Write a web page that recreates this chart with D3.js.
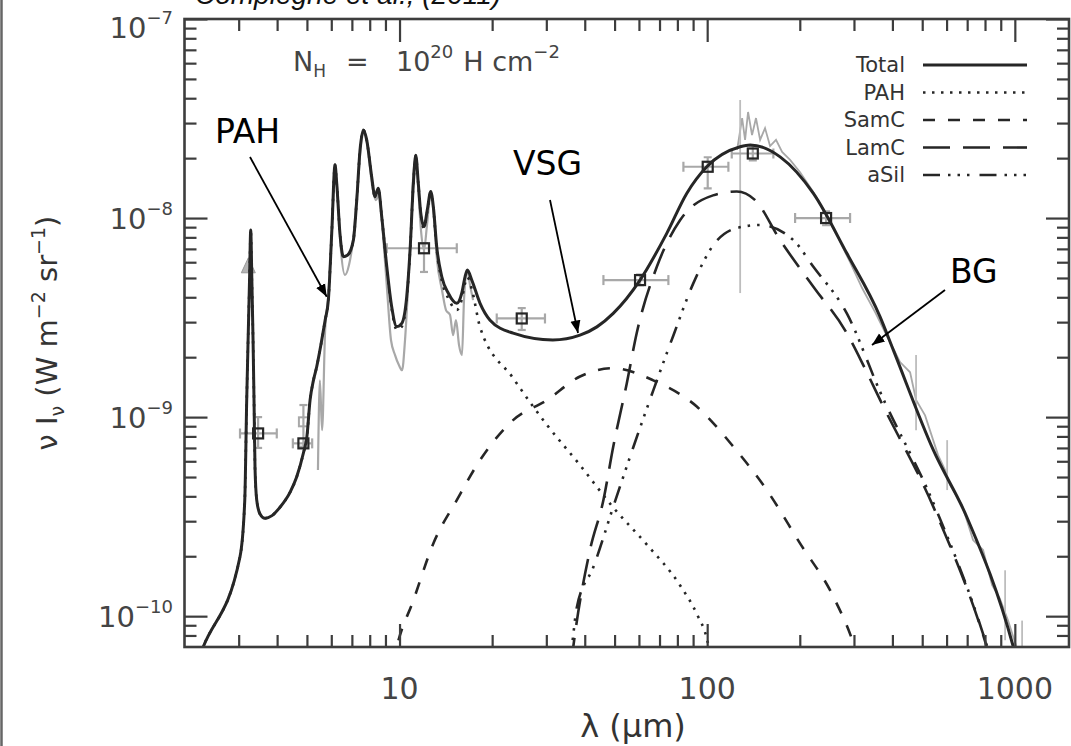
<!DOCTYPE html>
<html><head><meta charset="utf-8">
<script src="https://cdn.jsdelivr.net/npm/d3@7"></script>
<style>body{margin:0;background:#fff}svg{display:block}</style>
</head><body>
<svg id="chart" width="1071" height="746"></svg>
<script>
// ---------- data (wavelength in micron, nu*I_nu in W m^-2 sr^-1) ----------
const xMajorTicks = [10, 100, 1000];
const xMinorTicks = [3,4,5,6,7,8,9,20,30,40,50,60,70,80,90,200,300,400,500,600,700,800,900];
const yMajorTicks = [1e-7, 1e-8, 1e-9, 1e-10];
const yMinorTicks = [2e-8,3e-8,4e-8,5e-8,6e-8,7e-8,8e-8,9e-8,2e-9,3e-9,4e-9,5e-9,6e-9,7e-9,8e-9,9e-9,
                     2e-10,3e-10,4e-10,5e-10,6e-10,7e-10,8e-10,9e-10,8e-11,9e-11];
const yTickExp = ["−7","−8","−9","−10"];

const totalModel = [[2.22,6.1e-11],[2.30,7.0e-11],[3.03,1.99e-10],[3.14,3.83e-10],[3.186,1.22e-9],[3.225,2.74e-9],
 [3.254,4.88e-9],[3.283,8.7e-9],[3.311,4.88e-9],[3.341,2.44e-9],[3.365,1.22e-9],[3.39,5.6e-10],[3.434,3.83e-10],
 [3.52,3.26e-10],[3.65,3.1e-10],[3.85,3.2e-10],[4.09,3.53e-10],[4.41,4.2e-10],[4.63,5.0e-10],[4.87,6.6e-10],
 [5.0,8.0e-10],[5.12,1.22e-9],[5.25,1.53e-9],[5.38,1.79e-9],[5.55,2.3e-9],[5.73,3.07e-9],[5.87,3.87e-9],
 [6.02,8.4e-9],[6.17,1.85e-8],[6.25,1.49e-8],[6.40,8.4e-9],[6.57,6.4e-9],[6.77,6.5e-9],[7.08,7.75e-9],
 [7.26,1.23e-8],[7.44,2.2e-8],[7.63,2.77e-8],[7.82,2.47e-8],[8.12,1.61e-8],[8.32,1.28e-8],[8.53,1.41e-8],
 [8.75,1.02e-8],[9.09,5.7e-9],[9.43,3.58e-9],[9.79,2.85e-9],[10.17,2.96e-9],[10.55,4.02e-9],[10.82,6.9e-9],
 [11.09,1.49e-8],[11.29,2.07e-8],[11.51,1.49e-8],[11.72,1.06e-8],[12.01,9.05e-9],[12.31,1.10e-8],[12.63,1.36e-8],
 [12.88,1.14e-8],[13.21,7.17e-9],[13.72,5.07e-9],[14.41,4.19e-9],[15.35,3.73e-9],[15.93,4.19e-9],[16.33,5.07e-9],
 [16.61,5.48e-9],[17.17,4.88e-9],[18.27,3.73e-9],[19.69,3.07e-9],[23.4,2.64e-9],[31.5,2.44e-9],[38.6,2.58e-9],
 [43.8,2.84e-9],[49.5,3.32e-9],[60.5,4.88e-9],[73.9,8.38e-9],[85.8,1.33e-8],[99.7,1.81e-8],[128,2.28e-8],
 [138,2.33e-8],[172.6,2.03e-8],[221.4,1.33e-8],[284.4,6.65e-9],[364.8,3.19e-9],[402.9,2.17e-9],[543.6,6.82e-10],
 [698,3.15e-10],[989,7.0e-11],[1040,5.2e-11]];

const pahModel = [[2.22,6.1e-11],[2.30,7.0e-11],[3.03,1.99e-10],[3.14,3.83e-10],[3.186,1.22e-9],[3.225,2.74e-9],
 [3.254,4.88e-9],[3.283,8.7e-9],[3.311,4.88e-9],[3.341,2.44e-9],[3.365,1.22e-9],[3.39,5.6e-10],[3.434,3.83e-10],
 [3.52,3.26e-10],[3.65,3.1e-10],[3.85,3.2e-10],[4.09,3.53e-10],[4.41,4.2e-10],[4.63,5.0e-10],[4.87,6.6e-10],
 [5.0,8.0e-10],[5.12,1.22e-9],[5.25,1.53e-9],[5.38,1.79e-9],[5.55,2.3e-9],[5.73,3.07e-9],[5.87,3.87e-9],
 [6.02,8.4e-9],[6.17,1.85e-8],[6.25,1.49e-8],[6.40,8.4e-9],[6.57,6.4e-9],[6.77,6.5e-9],[7.08,7.75e-9],
 [7.26,1.23e-8],[7.44,2.2e-8],[7.63,2.77e-8],[7.82,2.47e-8],[8.12,1.61e-8],[8.32,1.28e-8],[8.53,1.41e-8],
 [8.75,1.02e-8],[9.09,5.7e-9],[9.43,3.5e-9],[9.79,2.75e-9],[10.17,2.85e-9],[10.55,3.9e-9],[10.82,6.8e-9],
 [11.09,1.48e-8],[11.29,2.06e-8],[11.51,1.48e-8],[11.72,1.05e-8],[12.01,8.9e-9],[12.31,1.08e-8],[12.63,1.34e-8],
 [12.88,1.12e-8],[13.21,6.95e-9],[13.72,4.85e-9],[14.41,3.95e-9],[15.35,3.45e-9],[15.93,3.9e-9],[16.33,4.7e-9],
 [16.61,5.05e-9],[17.17,4.4e-9],[18.27,2.83e-9],[23.4,1.57e-9],[30.2,9.1e-10],[38.6,5.74e-10],[49.4,3.53e-10],
 [63.8,2.28e-10],[81.6,1.43e-10],[92.7,1.02e-10],[100,7.6e-11],[103.7,5.7e-11]];

const samcModel = [[9.5,5.7e-11],[9.79,7.0e-11],[11.09,1.2e-10],[12.88,2.32e-10],[15.35,3.83e-10],[18.27,6.08e-10],
 [23.4,9.66e-10],[30.2,1.22e-9],[38.6,1.6e-9],[49.5,1.76e-9],[66.8,1.53e-9],[92.5,1.13e-9],[121.7,7.1e-10],
 [156.2,4.3e-10],[200.4,2.32e-10],[257.3,1.25e-10],[298.8,7.3e-11],[314,5.7e-11]];

const lamcModel = [[36.1,5.7e-11],[36.7,7.0e-11],[41.6,2.15e-10],[46.0,3.83e-10],[49.5,7.1e-10],[54.8,1.48e-9],
 [59.0,2.64e-9],[68.6,5.69e-9],[81.7,9.77e-9],[104.5,1.3e-8],[124.8,1.36e-8],[143.2,1.23e-8],[172.6,7.75e-9],
 [221.4,4.52e-9],[284.4,2.64e-9],[322,1.82e-9],[364.8,1.22e-9],[543.6,3.54e-10],[811,7.0e-11],[844,5.7e-11]];

const asilModel = [[35.6,5.7e-11],[36.3,7.0e-11],[37.7,1.11e-10],[42.7,1.77e-10],[49.5,3.54e-10],[57.6,7.1e-10],
 [66.9,1.37e-9],[77.7,2.58e-9],[90.2,4.71e-9],[104.7,7.31e-9],[124.8,8.91e-9],[148.6,9.23e-9],[190.6,7.75e-9],
 [221.4,5.69e-9],[284.4,3.32e-9],[364.8,1.34e-9],[543.6,3.70e-10],[811,7.1e-11],[844,5.8e-11]];

// observed spectra (grey)
const midIRSpectrum = [[5.43,5.42e-10],[5.51,1.53e-9],[5.60,8.6e-10],[5.73,2.73e-9],[5.85,3.87e-9],[6.03,8.7e-9],
 [6.17,1.74e-8],[6.31,1.23e-8],[6.45,6.9e-9],[6.65,5.18e-9],[6.85,5.81e-9],[7.06,7.75e-9],[7.27,1.31e-8],
 [7.50,2.33e-8],[7.66,2.77e-8],[7.90,2.20e-8],[8.14,1.47e-8],[8.38,1.23e-8],[8.58,1.31e-8],[8.84,8.2e-9],
 [9.11,4.35e-9],[9.38,2.44e-9],[9.67,2.05e-9],[9.96,1.82e-9],[10.19,1.72e-9],[10.42,2.44e-9],[10.65,4.35e-9],
 [10.90,8.7e-9],[11.06,1.55e-8],[11.29,2.0e-8],[11.48,1.47e-8],[11.74,8.7e-9],[12.01,6.9e-9],[12.28,9.2e-9],
 [12.63,1.31e-8],[12.95,9.8e-9],[13.24,6.15e-9],[13.74,4.35e-9],[14.16,3.45e-9],[14.59,3.26e-9],[14.93,2.58e-9],
 [15.26,3.07e-9],[15.61,2.30e-9],[15.96,2.05e-9],[16.20,3.87e-9],[16.58,5.48e-9],[16.95,4.6e-9],[17.34,3.87e-9]];

const farIRSpectrum = [[125.1,2.20e-8],[129.9,3.18e-8],[132.8,2.47e-8],[135.8,3.41e-8],[139.9,2.61e-8],[144.1,3.18e-8],
 [148.6,2.47e-8],[154.2,2.83e-8],[160.1,2.30e-8],[167.4,2.47e-8],[175.2,2.15e-8],[186.0,1.96e-8],[200.4,1.70e-8],
 [219.3,1.38e-8],[241.6,1.07e-8],[266.4,7.93e-9],[291.4,6.01e-9],[318.8,4.45e-9],[351.4,3.37e-9],[387.3,2.49e-9],
 [423.6,1.89e-9],[456.6,1.68e-9],[477.5,1.22e-9],[510.8,1.02e-9],[563.0,6.44e-10],[593.4,5.42e-10],[616.0,4.55e-10],
 [673.8,3.61e-10],[731.6,2.41e-10],[788.6,2.15e-10],[843.7,1.43e-10],[893.5,1.23e-10],[950.8,9.5e-11],
 [1009.5,7.1e-11],[1056,6.0e-11]];

// photometric points: [lambda, value, band lo, band hi, err lo, err hi]
const photometry = [[3.47,8.28e-10,3.03,3.99,7.0e-10,1.0e-9],[4.87,7.38e-10,4.5,5.2,7.1e-10,1.15e-9],
 [12.01,7.05e-9,9.09,15.35,5.36e-9,7.49e-9],[24.96,3.13e-9,20.7,29.7,2.74e-9,3.53e-9],
 [60.5,4.88e-9,46.0,74.8,4.6e-9,5.2e-9],[100.4,1.81e-8,83.7,117.2,1.41e-8,2.02e-8],
 [140.7,2.11e-8,120.2,164.1,1.95e-8,2.3e-8],[243.5,1.0e-8,193.1,291.4,9.2e-9,1.08e-8]];
const greySquares = [[4.87,9.47e-10]];
const greyTriangles = [[3.225,5.69e-9]];
const greyErrorBars = [[128,4.2e-9,3.92e-8],[477.5,8.6e-10,2.05e-9],[602.6,4.3e-10,7.66e-10],
 [929.9,7.57e-11,1.70e-10],[1056,6.0e-11,9.5e-11]];

const legendNames = ["Total","PAH","SamC","LamC","aSil"];

// ---------- drawing ----------
const svg = d3.select("#chart");
const L = 184.5, R = 1069, T = 19, B = 647;
const x = d3.scaleLog().domain([2, 1500]).range([L, R]);
const y = d3.scaleLog().domain([7e-11, 1e-7]).range([B, T]);
const ink = "#262626", axisInk = "#3d3d3d", grey = "#a8a8a8";

svg.append("rect").attr("width",1071).attr("height",746).attr("fill","#fff");
svg.append("line").attr("x1",1.5).attr("x2",1.5).attr("y1",0).attr("y2",746)
  .attr("stroke","#666").attr("stroke-width",2.5);

// clipped title fragment
svg.append("text").attr("x",195).attr("y",4).attr("font-family","Liberation Sans, Arial, sans-serif")
  .attr("font-style","italic").attr("font-size",28).attr("fill","#111").text("Compiègne et al., (2011)");

svg.append("defs").append("clipPath").attr("id","plotclip").append("rect")
  .attr("x",L).attr("y",T).attr("width",R-L).attr("height",B-T);

const g = svg.append("g").attr("clip-path","url(#plotclip)");
const line = d3.line().x(d => x(d[0])).y(d => y(d[1])).curve(d3.curveMonotoneX);

// grey observed spectra
g.append("path").datum(midIRSpectrum).attr("d",line).attr("fill","none").attr("stroke",grey).attr("stroke-width",2.2);
g.append("path").datum(farIRSpectrum).attr("d",d3.line().x(d=>x(d[0])).y(d=>y(d[1]))).attr("fill","none").attr("stroke",grey).attr("stroke-width",1.8);
g.selectAll(".gerr").data(greyErrorBars).join("line")
  .attr("x1",d=>x(d[0])).attr("x2",d=>x(d[0])).attr("y1",d=>y(d[1])).attr("y2",d=>y(d[2]))
  .attr("stroke","#bdbdbd").attr("stroke-width",1.8);

// photometric error bars
const eb = g.append("g").attr("stroke",grey).attr("stroke-width",2.2);
photometry.forEach(d => {
  eb.append("line").attr("x1",x(d[2])).attr("x2",x(d[3])).attr("y1",y(d[1])).attr("y2",y(d[1]));
  eb.append("line").attr("x1",x(d[2])).attr("x2",x(d[2])).attr("y1",y(d[1])-5).attr("y2",y(d[1])+5);
  eb.append("line").attr("x1",x(d[3])).attr("x2",x(d[3])).attr("y1",y(d[1])-5).attr("y2",y(d[1])+5);
  eb.append("line").attr("x1",x(d[0])).attr("x2",x(d[0])).attr("y1",y(d[4])).attr("y2",y(d[5]));
  eb.append("line").attr("x1",x(d[0])-4).attr("x2",x(d[0])+4).attr("y1",y(d[4])).attr("y2",y(d[4]));
  eb.append("line").attr("x1",x(d[0])-4).attr("x2",x(d[0])+4).attr("y1",y(d[5])).attr("y2",y(d[5]));
});
g.selectAll(".gsq").data(greySquares).join("rect")
  .attr("x",d=>x(d[0])-4.5).attr("y",d=>y(d[1])-4.5).attr("width",9).attr("height",9)
  .attr("fill","none").attr("stroke",grey).attr("stroke-width",2);
g.selectAll(".gtri").data(greyTriangles).join("path")
  .attr("d",d=>`M${x(d[0])},${y(d[1])-9}L${x(d[0])+7},${y(d[1])+6}L${x(d[0])-7},${y(d[1])+6}Z`)
  .attr("fill","#b5b5b5").attr("stroke","#999").attr("stroke-width",1);

// model components
const styles = [
  {data: totalModel, dash: null, w: 3},
  {data: pahModel, dash: "2.5,6.5", w: 2.6},
  {data: samcModel, dash: "12,13", w: 2.6},
  {data: lamcModel, dash: "27,13", w: 2.6},
  {data: asilModel, dash: "17,8,2.5,7,2.5,7,2.5,10", w: 2.6}
];
styles.slice(1).concat(styles.slice(0,1)).forEach(s => {
  g.append("path").datum(s.data).attr("d",line).attr("fill","none").attr("stroke",ink)
   .attr("stroke-width",s.w).attr("stroke-dasharray",s.dash).attr("stroke-linejoin","round");
});

// photometric squares
g.selectAll(".sq").data(photometry).join("rect")
  .attr("x",d=>x(d[0])-5).attr("y",d=>y(d[1])-5).attr("width",10).attr("height",10)
  .attr("fill","none").attr("stroke",ink).attr("stroke-width",2.2);

// ---------- axes (ticks on all four sides, pointing inward) ----------
function ticks(axis, vals, size, tr) {
  const a = svg.append("g").attr("transform",tr)
    .call(axis.tickValues(vals).tickSize(size).tickSizeOuter(0).tickFormat(""));
  a.select(".domain").remove();
  a.selectAll("line").attr("stroke",axisInk).attr("stroke-width",2.2);
}
ticks(d3.axisBottom(x), xMajorTicks, -23, `translate(0,${B})`);
ticks(d3.axisBottom(x), xMinorTicks, -12, `translate(0,${B})`);
ticks(d3.axisTop(x), xMajorTicks, -23, `translate(0,${T})`);
ticks(d3.axisTop(x), xMinorTicks, -12, `translate(0,${T})`);
ticks(d3.axisLeft(y), yMajorTicks, -23, `translate(${L},0)`);
ticks(d3.axisLeft(y), yMinorTicks, -12, `translate(${L},0)`);
ticks(d3.axisRight(y), yMajorTicks, -23, `translate(${R},0)`);
ticks(d3.axisRight(y), yMinorTicks, -12, `translate(${R},0)`);
svg.append("rect").attr("x",L).attr("y",T).attr("width",R-L).attr("height",B-T)
  .attr("fill","none").attr("stroke",axisInk).attr("stroke-width",2.6);

const font = "DejaVu Sans, Verdana, sans-serif";
svg.selectAll(".xl").data(xMajorTicks).join("text")
  .attr("x",d=>x(d)).attr("y",B+52).attr("text-anchor","middle")
  .attr("font-family",font).attr("font-size",30).attr("fill","#444").text(d=>d);
svg.selectAll(".yl").data(yMajorTicks).join("text")
  .attr("x",173).attr("y",(d,i)=>y(d)+11+(i===0?8:0)).attr("text-anchor","end")
  .attr("font-family",font).attr("font-size",29).attr("fill","#444")
  .each(function(d,i){
    const t = d3.select(this);
    t.append("tspan").text("10");
    t.append("tspan").attr("dy",-14).attr("font-size",18).text(yTickExp[i]);
  });

// axis titles
svg.append("text").attr("x",633).attr("y",737).attr("text-anchor","middle")
  .attr("font-family",font).attr("font-size",32).attr("fill","#333").text("λ  (μm)");
const yt = svg.append("text").attr("transform",`translate(57,${(T+B)/2}) rotate(-90)`)
  .attr("text-anchor","middle").attr("font-family",font).attr("font-size",29).attr("fill","#333");
yt.append("tspan").text("ν I");
yt.append("tspan").attr("dy",7).attr("font-size",19).text("ν");
yt.append("tspan").attr("dy",-7).text(" (W m");
yt.append("tspan").attr("dy",-12).attr("font-size",19).text("−2");
yt.append("tspan").attr("dy",12).text(" sr");
yt.append("tspan").attr("dy",-12).attr("font-size",19).text("−1");
yt.append("tspan").attr("dy",12).text(")");

// N_H label
const nh = svg.append("text").attr("x",293).attr("y",71).attr("font-family",font).attr("font-size",27).attr("fill","#444");
nh.append("tspan").text("N");
nh.append("tspan").attr("dy",6).attr("font-size",17).text("H");
nh.append("tspan").attr("x",346).attr("dy",-6).text("=");
nh.append("tspan").attr("x",396).text("10");
nh.append("tspan").attr("dy",-13).attr("font-size",18).text("20");
nh.append("tspan").attr("dx",10).attr("dy",13).text("H cm");
nh.append("tspan").attr("dy",-13).attr("font-size",18).text("−2");

// legend
const lg = svg.append("g");
legendNames.forEach((n,i) => {
  const yy = 65 + i*27.5;
  lg.append("text").attr("x",905).attr("y",yy+7).attr("text-anchor","end")
    .attr("font-family",font).attr("font-size",21).attr("fill","#333").text(n);
  lg.append("line").attr("x1",923).attr("x2",1027).attr("y1",yy).attr("y2",yy)
    .attr("stroke",ink).attr("stroke-width",styles[i].w).attr("stroke-dasharray",styles[i].dash);
});

// annotations
const defs = svg.select("defs");
defs.append("marker").attr("id","arr").attr("viewBox","0 0 10 10").attr("refX",10).attr("refY",5)
  .attr("markerWidth",7).attr("markerHeight",7).attr("orient","auto")
  .append("path").attr("d","M0,1L10,5L0,9Z").attr("fill","#000");
const annFont = "DejaVu Sans, sans-serif";
[["PAH",215,143,250,157,326.7,296.7],["VSG",513,175,550,200,578,333],["BG",950,283,945,290,872,345]]
 .forEach(a => {
  svg.append("text").attr("x",a[1]).attr("y",a[2]).attr("font-family",annFont).attr("font-size",33)
    .attr("fill","#000").text(a[0]);
  svg.append("line").attr("x1",a[3]).attr("y1",a[4]).attr("x2",a[5]).attr("y2",a[6])
    .attr("stroke","#000").attr("stroke-width",1.8).attr("marker-end","url(#arr)");
 });
</script>
</body></html>
